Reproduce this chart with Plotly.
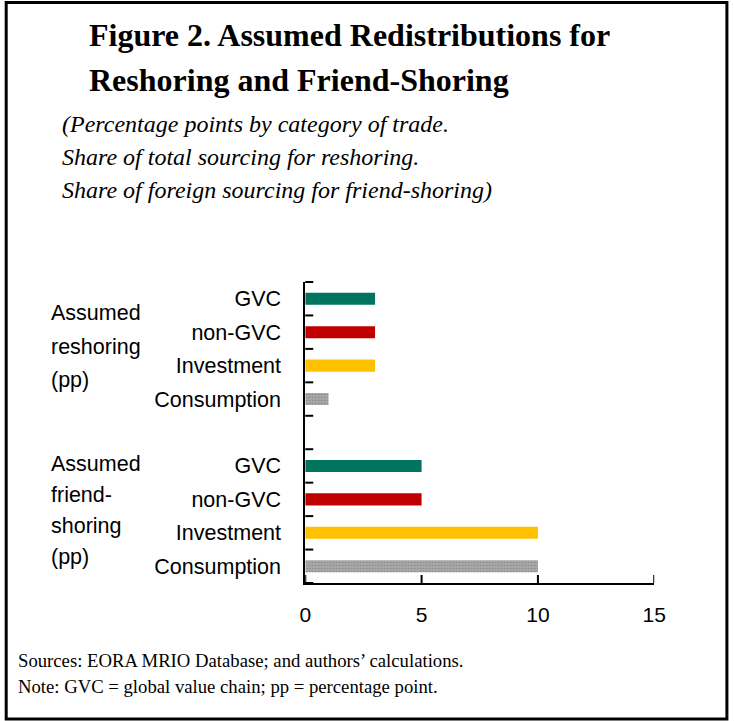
import plotly.graph_objects as go

# ---- data ----
categories = ["GVC", "non-GVC", "Investment", "Consumption", " ",
              "GVC ", "non-GVC ", "Investment ", "Consumption "]
tick_labels = ["GVC", "non-GVC", "Investment", "Consumption", "",
               "GVC", "non-GVC", "Investment", "Consumption"]
values = [3, 3, 3, 1, None, 5, 5, 10, 10]
bar_colors = ["#00745F", "#C00000", "#FFC000", "#A6A6A6", "#FFFFFF",
              "#00745F", "#C00000", "#FFC000", "#A6A6A6"]
bar_patterns = ["", "", "", ".", "", "", "", "", "."]
x_ticks = [0, 5, 10, 15]

group1_lines = ["Assumed", "reshoring", "(pp)"]
group2_lines = ["Assumed", "friend-", "shoring", "(pp)"]
title_lines = ["Figure 2. Assumed Redistributions for", "Reshoring and Friend-Shoring"]
subtitle_lines = ["(Percentage points by category of trade.",
                  "Share of total sourcing for reshoring.",
                  "Share of foreign sourcing for friend-shoring)"]
footer_lines = ["Sources: EORA MRIO Database; and authors’ calculations.",
                "Note: GVC = global value chain; pp = percentage point."]

W, H = 734, 721
def px(x):
    # horizontal pixel -> paper fraction (compensates page scaling)
    return ((x - 2.3) / 0.9867) / W
def py(y):
    return 1 - y / H

n_cat = len(categories)
# category boundaries as fractions of the category axis domain
cat_bound_fracs = [k / n_cat for k in range(n_cat + 1)]

sans = "Liberation Sans, Arial, sans-serif"
serif = "Liberation Serif, Times New Roman, serif"
clear = "rgba(0,0,0,0)"
NB = "\u00a0"

X_LEFT, X_RIGHT, Y_TOP, Y_BOT = 305, 658, 282, 583

fig = go.Figure()
fig.add_trace(go.Bar(
    y=categories, x=values, orientation="h",
    marker=dict(color=bar_colors, line=dict(width=0),
                pattern=dict(shape=bar_patterns, fillmode="overlay",
                             fgcolor="#9A9A9A", size=3, solidity=0.1)),
    width=0.36, showlegend=False, hoverinfo="skip",
))

fig.update_layout(
    width=W, height=H,
    margin=dict(l=0, r=0, t=0, b=0),
    paper_bgcolor="white", plot_bgcolor=clear,
    xaxis=dict(domain=[px(X_LEFT), px(X_RIGHT)], range=[0, 15], tickvals=x_ticks,
               showgrid=False, zeroline=False, showline=True, linecolor="black",
               linewidth=2, ticks="outside", ticklen=12, tickcolor=clear,
               tickfont=dict(family=sans, size=21, color="black"),
               fixedrange=True),
    yaxis=dict(domain=[py(Y_BOT), py(Y_TOP)], type="category",
               categoryorder="array", categoryarray=categories,
               autorange="reversed", tickvals=categories,
               ticktext=[t + NB * 3 for t in tick_labels],
               showgrid=False, zeroline=False,
               showline=True, linecolor="black", linewidth=2, ticks="",
               tickfont=dict(family=sans, size=21.5, color="black"),
               fixedrange=True),
)

shapes = [dict(type="rect", xref="paper", yref="paper",
               x0=px(2.5), x1=px(731.5), y0=py(719), y1=py(2.5),
               line=dict(color="black", width=3), fillcolor=clear)]
# inward tick marks on the value axis (at tick values)
for v in x_ticks:
    shapes.append(dict(type="line", xref="x", x0=v, x1=v,
                       yref="paper", ysizemode="pixel", yanchor=py(Y_BOT),
                       y0=0, y1=8, line=dict(color="black", width=2)))
# inward tick marks on the category axis (at category boundaries)
for f in cat_bound_fracs:
    shapes.append(dict(type="line", yref="y domain", y0=f, y1=f,
                       xref="paper", xsizemode="pixel", xanchor=px(X_LEFT),
                       x0=0, x1=8, line=dict(color="black", width=2)))
fig.update_layout(shapes=shapes)

ann = []
for i, t in enumerate(title_lines):
    ann.append(dict(text=f"<b>{t}</b>", x=px(84), y=py(35 + 45 * i),
                    font=dict(family=serif, size=32, color="black")))
for i, t in enumerate(subtitle_lines):
    ann.append(dict(text=f"<i>{t}</i>", x=px(57), y=py(124 + 33 * i),
                    font=dict(family=serif, size=24, color="black")))
for i, t in enumerate(group1_lines):
    ann.append(dict(text=t, x=px(46), y=py(313 + 33.5 * i),
                    font=dict(family=sans, size=21.5, color="black")))
for i, t in enumerate(group2_lines):
    ann.append(dict(text=t, x=px(46), y=py(464 + 31 * i),
                    font=dict(family=sans, size=21.5, color="black")))
for i, t in enumerate(footer_lines):
    ann.append(dict(text=t, x=px(12), y=py(660 + 26 * i),
                    font=dict(family=serif, size=18.7, color="black")))
for a in ann:
    a.update(xref="paper", yref="paper", xanchor="left", yanchor="middle",
             showarrow=False)
fig.update_layout(annotations=ann)

fig.write_html("out.html")
